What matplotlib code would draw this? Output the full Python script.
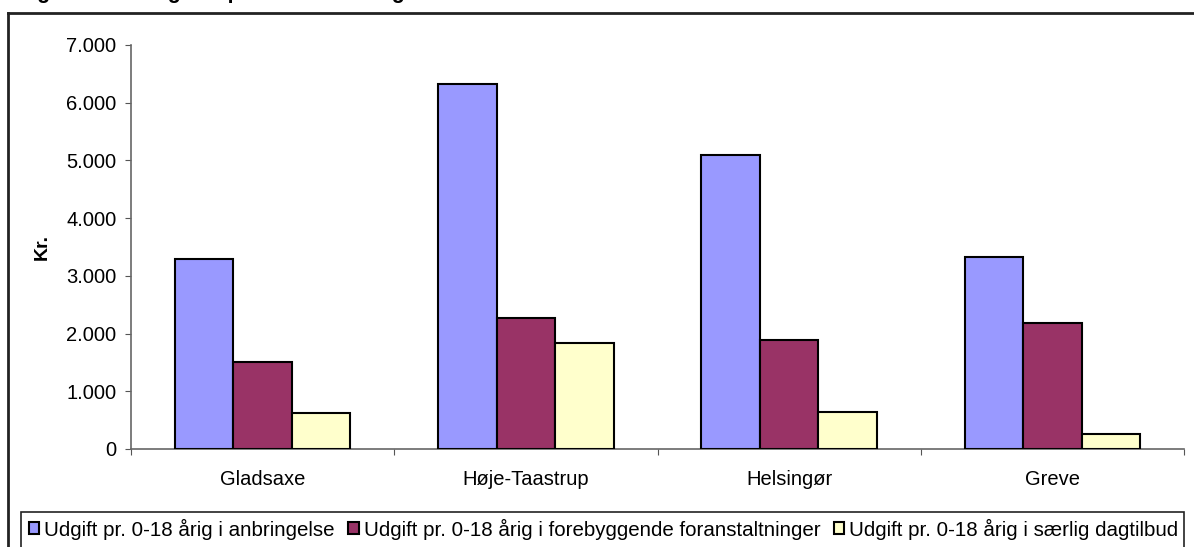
import matplotlib
matplotlib.use("Agg")
import matplotlib.pyplot as plt
import numpy as np
from matplotlib.patches import Rectangle
from matplotlib.lines import Line2D
from matplotlib.ticker import FuncFormatter

plt.rcParams['font.family'] = ['Liberation Sans', 'DejaVu Sans']

categories = ["Gladsaxe", "Høje-Taastrup", "Helsingør", "Greve"]
series_names = [
    "Udgift pr. 0-18 årig i anbringelse",
    "Udgift pr. 0-18 årig i forebyggende foranstaltninger",
    "Udgift pr. 0-18 årig i særlig dagtilbud",
]
anbringelse = [3290, 6320, 5095, 3320]
forebyggende = [1500, 2275, 1895, 2190]
dagtilbud = [620, 1845, 635, 260]
colors = ["#9999FF", "#993366", "#FFFFCC"]
yticks = [0, 1000, 2000, 3000, 4000, 5000, 6000, 7000]
title_text = "Figur 4.3:    Udgifter pr. 0-18 år i alt og fordelt"

W, H = 1194, 547
fig = plt.figure(figsize=(W / 100, H / 100), dpi=100)

def fx(px):
    return px / W

def fy(py):
    return 1 - py / H

ax = fig.add_axes([fx(131), fy(449), fx(1184) - fx(131), fy(45) - fy(449)])

series = [anbringelse, forebyggende, dagtilbud]
n = len(categories)
x = np.arange(n)
bw = 1 / 4.5
for i, (vals, c, name) in enumerate(zip(series, colors, series_names)):
    ax.bar(x + (i - 1) * bw, vals, width=bw, color=c, edgecolor="black",
           linewidth=1.5, label=name, zorder=3)

ax.set_xlim(-0.5, n - 0.5)
ax.set_ylim(0, 7000)
ax.set_yticks(yticks)
ax.yaxis.set_major_formatter(FuncFormatter(lambda v, p: f"{int(v):,}".replace(",", ".")))
ax.set_xticks(np.arange(n + 1) - 0.5, minor=False)
ax.set_xticklabels([])
ax.set_xticks(x, minor=True)
ax.set_xticklabels(categories, minor=True, fontsize=14.5)
ax.tick_params(axis="x", which="minor", length=0, pad=15)
ax.tick_params(axis="x", which="major", length=4, direction="out", color="#555555")
ax.tick_params(axis="y", length=4, direction="out", color="#555555", labelsize=14.5, pad=6.5)
for s in ["top", "right"]:
    ax.spines[s].set_visible(False)
for s in ["left", "bottom"]:
    ax.spines[s].set_color("#666666")
    ax.spines[s].set_linewidth(1.2)
ax.set_ylabel("Kr.", fontsize=14, fontweight="bold", labelpad=11)

# outer chart frame
fig.add_artist(Line2D([fx(8), fx(8)], [fy(13), fy(560)], color="#222222", lw=2))
fig.add_artist(Line2D([fx(8), fx(1200)], [fy(13), fy(13)], color="#222222", lw=2))

# legend box
fig.add_artist(Rectangle((fx(21), fy(560)), fx(1184) - fx(21), fy(512) - fy(560),
                         fill=False, edgecolor="#222222", lw=1.2))
handles, labels = ax.get_legend_handles_labels()
leg = fig.legend(handles, labels, ncol=3, loc="center left",
                 bbox_to_anchor=(fx(29), fy(529)), frameon=False,
                 fontsize=14.8, handlelength=0.5, handleheight=0.5,
                 handletextpad=0.25, columnspacing=0.65, borderaxespad=0,
                 borderpad=0)

# title, cut off at the top edge (as in the reference)
fig.text(fx(18), fy(-2), title_text, fontsize=15.5, fontweight="bold",
         va="baseline", ha="left")

fig.savefig("out.png", dpi=100)
